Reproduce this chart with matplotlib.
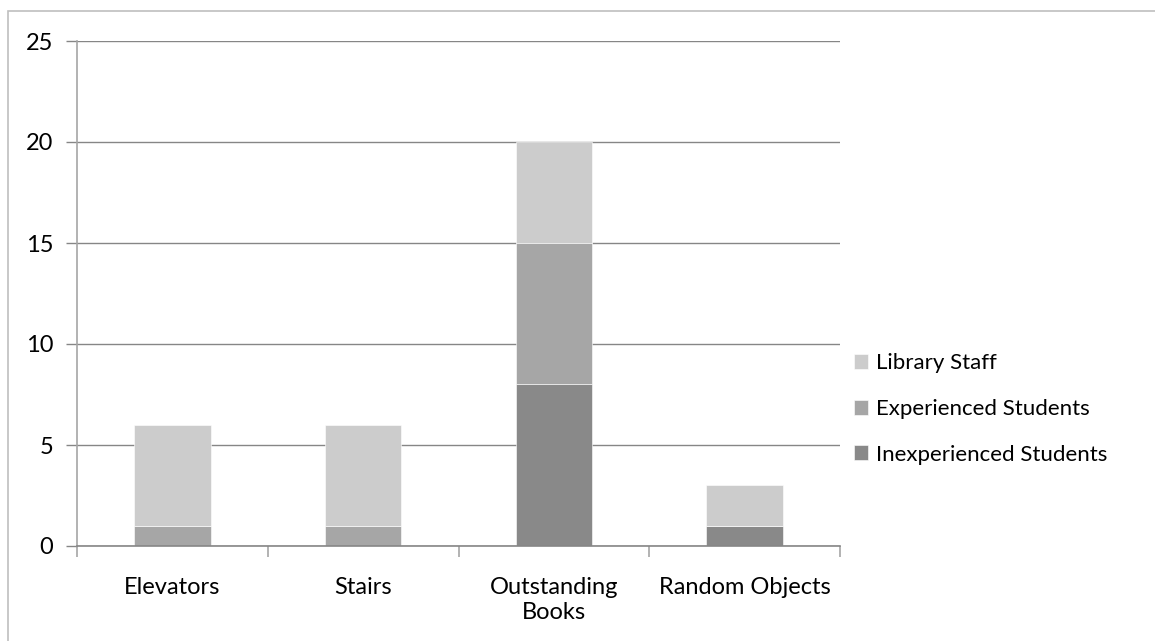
import matplotlib.pyplot as plt
from matplotlib.patches import Rectangle

categories = ["Elevators", "Stairs", "Outstanding\nBooks", "Random Objects"]
series_names = ["Inexperienced Students", "Experienced Students", "Library Staff"]
inexperienced = [0, 0, 8, 1]
experienced = [1, 1, 7, 0]
library_staff = [5, 5, 5, 2]
colors = ["#898989", "#a6a6a6", "#cccccc"]
y_ticks = [0, 5, 10, 15, 20, 25]

plt.rcParams['font.family'] = ['Lato', 'DejaVu Sans']

W, H = 1155, 641
fig = plt.figure(figsize=(W / 100, H / 100), dpi=100)

# outer chart frame
fig.patches.append(Rectangle((8 / W, -0.1), 1.2, (H - 11) / H + 0.1,
                             transform=fig.transFigure, fill=False,
                             edgecolor="#bfbfbf", linewidth=1.2))

left, right, top, bottom = 77, 840, 41, 546
ax = fig.add_axes([left / W, 1 - bottom / H, (right - left) / W, (bottom - top) / H])

x = list(range(len(categories)))
series = [inexperienced, experienced, library_staff]
base = [0] * len(categories)
handles = []
for name, vals, c in zip(series_names, series, colors):
    b = ax.bar(x, vals, width=0.4, bottom=base, color=c, label=name,
               edgecolor="white", linewidth=0.4)
    handles.append(b)
    base = [bb + v for bb, v in zip(base, vals)]

ax.set_xlim(-0.5, len(categories) - 0.5)
ax.set_ylim(0, 25)
ax.set_yticks(y_ticks)
ax.set_yticklabels([str(t) for t in y_ticks])
ax.yaxis.grid(True, color="#868686", linewidth=1.0)
ax.set_axisbelow(True)

for s in ["top", "right"]:
    ax.spines[s].set_visible(False)
ax.spines["left"].set_color("#a6a6a6")
ax.spines["bottom"].set_color("#868686")
ax.spines["left"].set_linewidth(1.2)
ax.spines["bottom"].set_linewidth(1.2)

ax.tick_params(axis="y", length=8, color="#868686", width=1.0, pad=9,
               labelsize=17, labelcolor="black")
ax.set_xticks([i - 0.5 for i in range(len(categories) + 1)], minor=True)
ax.set_xticks(x)
ax.set_xticklabels(categories, fontsize=17, linespacing=1.25, color="black")
ax.tick_params(axis="x", which="major", length=0, pad=22)
ax.tick_params(axis="x", which="minor", length=8, color="#a6a6a6", width=1.2)

leg = ax.legend(handles=handles[::-1], loc="center left",
                bbox_to_anchor=((845 - left) / (right - left), (546 - 409) / (bottom - top)),
                frameon=False, fontsize=16, handlelength=0.65, handleheight=0.65,
                handletextpad=0.35, labelspacing=1.15, borderaxespad=0)

fig.savefig("out.png", dpi=100)
